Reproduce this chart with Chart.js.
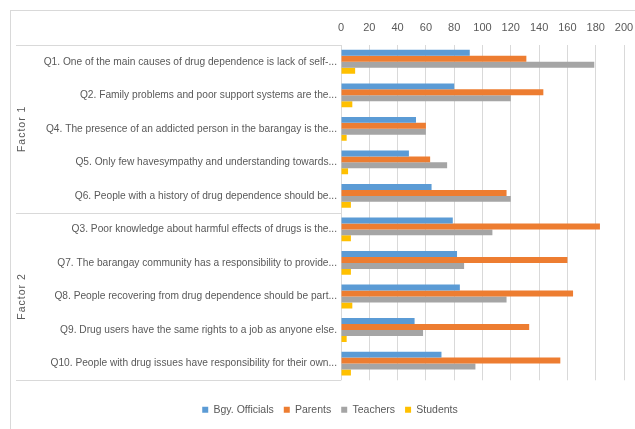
<!DOCTYPE html>
<html>
<head>
<meta charset="utf-8">
<script src="https://cdn.jsdelivr.net/npm/chart.js@4.4.0/dist/chart.umd.min.js"></script>
<style>
    body { margin: 0; background: #fff; overflow: hidden; }
    #frame { position: absolute; left: 10px; top: 10px; width: 650px; height: 450px; border: 1px solid #d9d9d9; }
    #wrap { position: absolute; left: 0; top: 0; width: 635px; height: 429px; }
</style>
</head>
<body>
<div id="frame"></div>
<div id="wrap"><canvas id="myChart" width="635" height="429"></canvas></div>
<script>
// questions (already shortened the way the original chart shows them)
var questions = [
    "Q1. One of the main causes of drug dependence is lack of self-...",
    "Q2. Family problems and poor support systems are the...",
    "Q4. The presence of an addicted person in the barangay is the...",
    "Q5. Only few havesympathy and understanding towards...",
    "Q6. People with a history of drug dependence should be...",
    "Q3. Poor knowledge about harmful effects of drugs is the...",
    "Q7. The barangay community has a responsibility to provide...",
    "Q8. People recovering from drug dependence should be part...",
    "Q9. Drug users have the same rights to a job as anyone else.",
    "Q10. People with drug issues have responsibility for their own..."
];
var factorNames = ["Factor 1", "Factor 2"];
var factorSizes = [5, 5];

var officials = [91, 80, 53, 48, 64, 79, 82, 84, 52, 71];
var parents = [131, 143, 60, 63, 117, 183, 160, 164, 133, 155];
var teachers = [179, 120, 60, 75, 120, 107, 87, 117, 58, 95];
var students = [10, 8, 4, 5, 7, 7, 7, 8, 4, 7];

var xMin = 0;
var xMax = 200;
var xStep = 20;

var txtColor = "#595959";
var lineColor = "#d9d9d9";
var fontName = "'Liberation Sans', Arial, sans-serif";

//draws the factor groups on the left side
var factorPlugin = {
    id: "factors",
    afterLayout: function (chart) {
        //legend sits a bit right of the middle in the original
        chart.legend.left += 10;
        chart.legend.right += 10;
    },
    afterDraw: function (chart) {
        var c = chart.ctx;
        var y = chart.scales.y;
        var area = chart.chartArea;
        var x0 = 16;
        var half = (y.getPixelForValue(1) - y.getPixelForValue(0)) / 2;
        var start = 0;
        var edges = [y.getPixelForValue(0) - half];
        c.save();
        c.strokeStyle = lineColor;
        c.lineWidth = 1;
        for (var i = 0; i < factorSizes.length; i++) {
            var end = start + factorSizes[i] - 1;
            var top = y.getPixelForValue(start) - half;
            var bottom = y.getPixelForValue(end) + half;
            edges.push(bottom);
            c.fillStyle = txtColor;
            c.font = "10.5px " + fontName;
            c.textAlign = "center";
            c.textBaseline = "middle";
            c.save();
            c.translate(22, (top + bottom) / 2);
            c.rotate(-Math.PI / 2);
            c.letterSpacing = "1px";
            c.fillText(factorNames[i], 0, 0);
            c.restore();
            start = end + 1;
        }
        edges.forEach(function (e) {
            var yy = Math.round(e) + 0.5;
            c.beginPath();
            c.moveTo(x0, yy);
            c.lineTo(area.left, yy);
            c.stroke();
        });
        c.restore();
    }
};

var ctx = document.getElementById("myChart").getContext("2d");
window.myChart = new Chart(ctx, {
    type: "bar",
    data: {
        labels: questions,
        datasets: [
            { label: "Bgy. Officials", data: officials, backgroundColor: "#5b9bd5" },
            { label: "Parents", data: parents, backgroundColor: "#ed7d31" },
            { label: "Teachers", data: teachers, backgroundColor: "#a5a5a5" },
            { label: "Students", data: students, backgroundColor: "#ffc000" }
        ]
    },
    options: {
        indexAxis: "y",
        responsive: false,
        animation: false,
        datasets: {
            bar: { categoryPercentage: 0.71, barPercentage: 1.0, borderWidth: 0 }
        },
        layout: { padding: { left: 16, top: 10, right: 11, bottom: 4 } },
        scales: {
            x: {
                position: "top",
                min: xMin,
                max: xMax,
                ticks: { stepSize: xStep, color: txtColor, padding: 10, font: { family: fontName, size: 11 } },
                grid: { color: lineColor, drawTicks: false },
                border: { display: false },
                afterFit: function (s) { s.height = 35; s.paddingRight = 0; s.paddingLeft = 0; }
            },
            y: {
                ticks: { color: txtColor, padding: 4, autoSkip: false, font: { family: fontName, size: 10.2 } },
                grid: { display: false, drawTicks: false },
                border: { display: false },
                afterFit: function (s) { s.width = 325; }
            }
        },
        plugins: {
            legend: {
                position: "bottom",
                title: { display: true, text: "", font: { size: 1 }, padding: { top: 0, bottom: 13 } },
                labels: {
                    boxWidth: 6,
                    boxHeight: 6,
                    padding: 10,
                    color: txtColor,
                    font: { family: fontName, size: 10.5 }
                }
            },
            tooltip: { enabled: false }
        }
    },
    plugins: [factorPlugin]
});
</script>
</body>
</html>
